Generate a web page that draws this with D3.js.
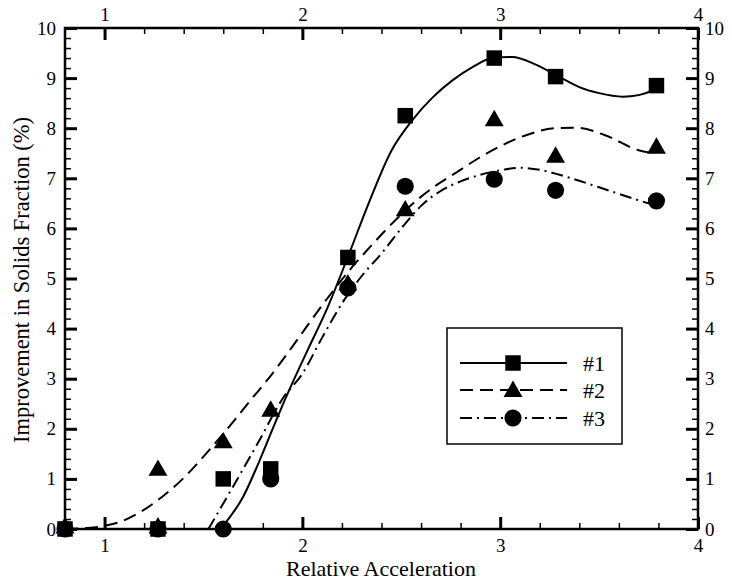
<!DOCTYPE html>
<html>
<head>
<meta charset="utf-8">
<script src="https://cdn.jsdelivr.net/npm/d3@7"></script>
</head>
<body style="margin:0;background:#fff">
<svg id="chart" width="732" height="583" style="display:block"></svg>
<script>
// Measured points: relative acceleration vs improvement in solids fraction (%)
const accel1 = [0.8, 1.27, 1.6, 1.84, 2.23, 2.52, 2.97, 3.28, 3.79];
const improve1 = [0, 0, 1.0, 1.2, 5.42, 8.25, 9.4, 9.03, 8.85];

const accel2 = [0.8, 1.27, 1.27, 1.6, 1.84, 2.23, 2.52, 2.97, 3.28, 3.79];
const improve2 = [0.05, 0.05, 1.2, 1.75, 2.38, 4.9, 6.38, 8.18, 7.45, 7.63];

const accel3 = [0.8, 1.27, 1.6, 1.84, 2.23, 2.52, 2.97, 3.28, 3.79];
const improve3 = [0, 0, 0, 1.0, 4.81, 6.84, 6.98, 6.76, 6.55];

// Fitted trend curves (x, y) for each run
const fit1 = [[1.586,0],[1.70,0.64],[1.80,1.52],[1.875,2.24],[1.94,2.83],[2.03,3.6],[2.125,4.4],
  [2.23,5.43],[2.34,6.55],[2.45,7.55],[2.56,8.18],[2.66,8.62],[2.76,8.96],[2.86,9.22],[2.96,9.4],
  [3.06,9.42],[3.18,9.27],[3.3,9.02],[3.4,8.82],[3.5,8.7],[3.62,8.63],[3.7,8.66],[3.77,8.76],[3.8,8.84]];
const fit2 = [[0.8,0],[0.91,0.02],[0.98,0.05],[1.07,0.13],[1.19,0.36],[1.29,0.64],[1.39,0.98],[1.49,1.40],
  [1.65,2.14],[1.74,2.58],[1.82,2.96],[1.975,3.78],[2.06,4.25],[2.25,5.22],[2.34,5.62],[2.5,6.28],
  [2.59,6.6],[2.68,6.87],[2.78,7.12],[2.89,7.4],[3.0,7.64],[3.13,7.86],[3.28,8.0],[3.39,8.01],
  [3.53,7.86],[3.7,7.56],[3.78,7.5]];
const fit3 = [[1.525,0],[1.65,0.85],[1.78,1.75],[1.9,2.6],[2.0,3.1],[2.1,3.82],[2.2,4.5],[2.3,5.05],
  [2.4,5.5],[2.5,6.0],[2.6,6.45],[2.7,6.75],[2.8,6.94],[2.9,7.07],[3.0,7.16],[3.1,7.21],[3.2,7.17],
  [3.3,7.07],[3.4,6.95],[3.5,6.82],[3.6,6.69],[3.7,6.56],[3.78,6.47]];

const xMajor = [1, 2, 3, 4];
const xMinor = [1.2, 1.4, 1.6, 1.8, 2.2, 2.4, 2.6, 2.8, 3.2, 3.4, 3.6, 3.8];
const yMajor = [0, 1, 2, 3, 4, 5, 6, 7, 8, 9, 10];
const legendLabels = ["#1", "#2", "#3"];

const svg = d3.select("#chart");
const L = 65, R = 698, T = 28, B = 529;
const serif = "'Liberation Serif'";

const x = d3.scaleLinear().domain([0.8, 4]).range([L, R]);
const y = d3.scaleLinear().domain([0, 10]).range([B, T]);

const yMinor = d3.range(0, 10.001, 0.2).filter(v => Math.abs(v - Math.round(v)) > 1e-6);

// axes: major ticks with labels, minor ticks without, all pointing inward
function styleAxis(g, w) {
  g.attr("font-family", null).attr("font-size", null);
  g.select(".domain").remove();
  g.selectAll(".tick line").attr("stroke", "#000").attr("stroke-width", w);
  g.selectAll(".tick text").style("font-family", serif).style("font-size", "19px").attr("fill", "#000");
}
const gAxes = svg.append("g");
gAxes.append("g").attr("transform", `translate(0,${B})`)
  .call(d3.axisBottom(x).tickValues(xMajor).tickSize(-12).tickPadding(10).tickFormat(d3.format("d")))
  .call(g => styleAxis(g, 3));
gAxes.append("g").attr("transform", `translate(0,${B})`)
  .call(d3.axisBottom(x).tickValues(xMinor).tickSize(-6).tickFormat(""))
  .call(g => styleAxis(g, 1.5));
gAxes.append("g").attr("transform", `translate(0,${T})`)
  .call(d3.axisTop(x).tickValues(xMajor).tickSize(-12).tickPadding(7).tickFormat(d3.format("d")))
  .call(g => styleAxis(g, 3));
gAxes.append("g").attr("transform", `translate(0,${T})`)
  .call(d3.axisTop(x).tickValues(xMinor).tickSize(-6).tickFormat(""))
  .call(g => styleAxis(g, 1.5));
gAxes.append("g").attr("transform", `translate(${L},0)`)
  .call(d3.axisLeft(y).tickValues(yMajor).tickSize(-12).tickPadding(9).tickFormat(d3.format("d")))
  .call(g => styleAxis(g, 3));
gAxes.append("g").attr("transform", `translate(${L},0)`)
  .call(d3.axisLeft(y).tickValues(yMinor).tickSize(-6).tickFormat(""))
  .call(g => styleAxis(g, 1.5));
gAxes.append("g").attr("transform", `translate(${R},0)`)
  .call(d3.axisRight(y).tickValues(yMajor).tickSize(-12).tickPadding(7).tickFormat(d3.format("d")))
  .call(g => styleAxis(g, 3));
gAxes.append("g").attr("transform", `translate(${R},0)`)
  .call(d3.axisRight(y).tickValues(yMinor).tickSize(-6).tickFormat(""))
  .call(g => styleAxis(g, 1.5));

// plot frame
svg.append("rect").attr("x", L).attr("y", T).attr("width", R - L).attr("height", B - T)
  .attr("fill", "none").attr("stroke", "#000").attr("stroke-width", 2.5);

// fitted curves
const line = d3.line().x(d => x(d[0])).y(d => y(d[1])).curve(d3.curveMonotoneX);
const curves = [
  { data: fit1, dash: null },
  { data: fit2, dash: "13,7" },
  { data: fit3, dash: "12,5,2,5" }
];
svg.append("g").selectAll("path").data(curves).join("path")
  .attr("d", d => line(d.data))
  .attr("fill", "none").attr("stroke", "#000").attr("stroke-width", 2)
  .attr("stroke-dasharray", d => d.dash);

// markers
const symSquare = d3.symbol().type(d3.symbolSquare).size(240);
const symTri = d3.symbol().type(d3.symbolTriangle).size(155);
const symCircle = d3.symbol().type(d3.symbolCircle).size(230);
const series = [
  { xs: accel1, ys: improve1, sym: symSquare, dy: 0 },
  { xs: accel2, ys: improve2, sym: symTri, dy: 1.5 },
  { xs: accel3, ys: improve3, sym: symCircle, dy: 0 }
];
series.forEach(s => {
  svg.append("g").selectAll("path").data(s.xs.map((v, i) => [v, s.ys[i]])).join("path")
    .attr("d", s.sym())
    .attr("transform", d => `translate(${x(d[0])},${y(d[1]) + s.dy})`)
    .attr("fill", "#000");
});

// axis titles
svg.append("text").attr("x", 381).attr("y", 576).attr("text-anchor", "middle")
  .style("font-family", serif).style("font-size", "22px").text("Relative Acceleration");
svg.append("text").attr("transform", `translate(29,280) rotate(-90)`)
  .attr("text-anchor", "middle").style("font-family", serif).style("font-size", "22.5px")
  .text("Improvement in Solids Fraction (%)");

// legend
const lg = svg.append("g");
lg.append("rect").attr("x", 447).attr("y", 328).attr("width", 175).attr("height", 116)
  .attr("fill", "#fff").attr("stroke", "#000").attr("stroke-width", 1.5);
const rows = [363, 390, 418];
legendLabels.forEach((lab, i) => {
  lg.append("line").attr("x1", 460).attr("x2", 567).attr("y1", rows[i]).attr("y2", rows[i])
    .attr("stroke", "#000").attr("stroke-width", 2).attr("stroke-dasharray", curves[i].dash);
  lg.append("path").attr("d", series[i].sym())
    .attr("transform", `translate(513,${rows[i] + series[i].dy})`).attr("fill", "#000");
  lg.append("text").attr("x", 583).attr("y", rows[i]).attr("dy", "0.35em")
    .style("font-family", serif).style("font-size", "22px").text(lab);
});
</script>
</body>
</html>
